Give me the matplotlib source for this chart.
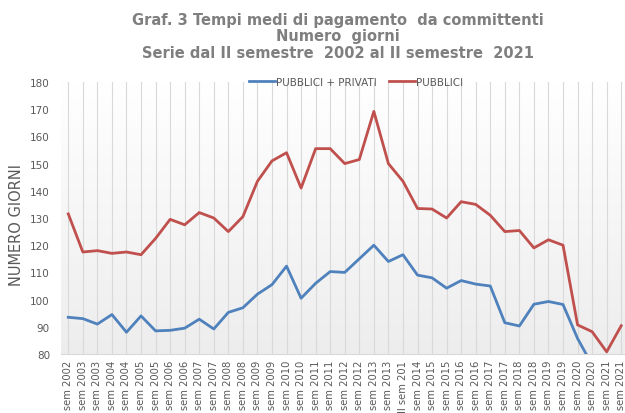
import numpy as np
import matplotlib
matplotlib.use("Agg")
import matplotlib.pyplot as plt

labels = ["II sem 2002"]
for yr in range(2003, 2022):
    labels.append(f"I sem {yr}")
    labels.append(f"II sem {yr}")
labels[23] = "II sem 201"

pubblici = [131.5, 117.5, 118, 117, 117.5, 116.5, 122.5, 129.5, 127.5, 132,
            130, 125, 130.5, 143.5, 151, 154, 141, 155.5, 155.5, 150,
            151.5, 169.2, 150, 143.5, 133.5, 133.3, 130, 136, 135, 131,
            125, 125.4, 119, 122, 120, 90.7, 88.2, 80.8, 90.4]
pubblici_privati = [93.5, 93, 91, 94.5, 88, 94, 88.5, 88.7, 89.5, 92.8,
                    89.2, 95.3, 97, 102, 105.5, 112.3, 100.5, 106, 110.3, 110,
                    115, 120, 114, 116.5, 109, 108, 104.2, 107, 105.7, 105,
                    91.5, 90.3, 98.3, 99.3, 98.2, 85.7, 76, np.nan, np.nan]

yticks = list(range(80, 181, 10))

W, H = 625, 414
fig = plt.figure(figsize=(W/100, H/100), dpi=100)
fig.patch.set_facecolor("white")

left, right, top, bottom = 61, 628.5, 83, 355
ax = fig.add_axes([left/W, 1-bottom/H, (right-left)/W, (bottom-top)/H])

x = np.arange(len(labels))
ax.set_xlim(-0.5, len(labels)-0.5)
ax.set_ylim(80, 180)

# gradient background: white at top, light grey at bottom
grad = np.linspace(0, 1, 256).reshape(-1, 1)
top_c = np.array([1.0, 1.0, 1.0])
bot_c = np.array([0.93, 0.93, 0.93])
img = top_c[None, None, :]*(1-grad[:, :, None]) + bot_c[None, None, :]*grad[:, :, None]
ax.imshow(img, extent=[-0.5, len(labels)-0.5, 80, 180], origin="upper",
          aspect="auto", zorder=0)

for xi in x:
    ax.axvline(xi, color="#d9d9d9", lw=0.8, zorder=1)

ax.plot(x, pubblici_privati, color="#4F81BD", lw=2.0, zorder=3,
        solid_joinstyle="round", label="PUBBLICI + PRIVATI")
ax.plot(x, pubblici, color="#C0504D", lw=2.0, zorder=3,
        solid_joinstyle="round", label="PUBBLICI")

for s in ["top", "right", "left"]:
    ax.spines[s].set_visible(False)
ax.spines["bottom"].set_color("#d9d9d9")
ax.spines["bottom"].set_linewidth(0.8)

ax.set_yticks(yticks)
ax.set_yticklabels([str(v) for v in yticks], fontsize=7.5, color="#595959")
ax.tick_params(axis="y", length=0, pad=8)
ax.set_xticks(x)
ax.set_xticklabels(labels, rotation=90, fontsize=7.2, color="#595959", va="top", ha="center")
ax.tick_params(axis="x", length=0, pad=4)

fig.text(17/W, 1-225/H, "NUMERO GIORNI", rotation=90, fontsize=10.5, color="#595959",
         ha="center", va="center")

title = "Graf. 3 Tempi medi di pagamento  da committenti\nNumero  giorni\nSerie dal II semestre  2002 al II semestre  2021"
fig.text(338/W, 1-37/H, title, fontsize=10.5, fontweight="bold", color="#7f7f7f",
         ha="center", va="center", linespacing=1.1)

leg = fig.legend(loc="center", bbox_to_anchor=(356/W, 1-83/H), ncol=2, frameon=False,
                 fontsize=7.5, handlelength=2.5, columnspacing=1.2, handletextpad=0.1)
for t in leg.get_texts():
    t.set_color("#595959")

fig.savefig("out.png", dpi=100)
